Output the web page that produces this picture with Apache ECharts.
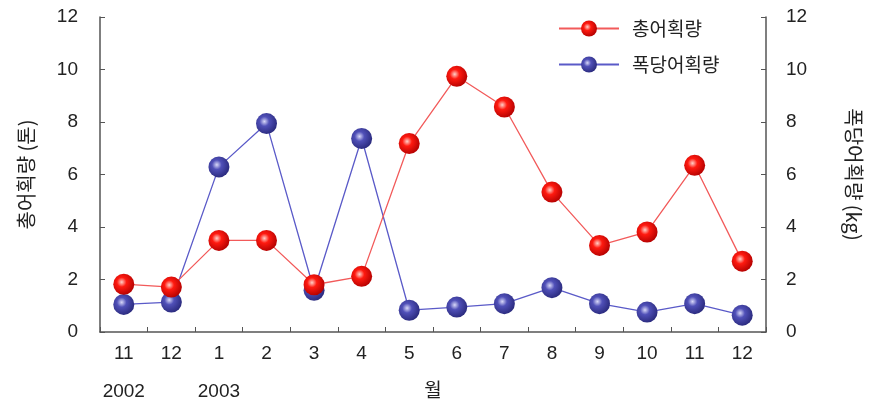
<!DOCTYPE html>
<html>
<head>
<meta charset="utf-8">
<script src="https://cdn.jsdelivr.net/npm/echarts@6/dist/echarts.min.js"></script>
<style>
html,body{margin:0;padding:0;background:#fff;}
#c{width:872px;height:414px;}
</style>
</head>
<body>
<div id="c"></div>
<script>
const months = ["11","12","1","2","3","4","5","6","7","8","9","10","11","12"];
const years = ["2002","","2003","","","","","","","","","","",""];
const totalCatch = [1.82,1.71,3.49,3.49,1.8,2.12,7.18,9.74,8.57,5.33,3.3,3.81,6.35,2.7];
const catchPerNet = [1.05,1.14,6.29,7.94,1.59,7.37,0.83,0.95,1.08,1.69,1.08,0.76,1.08,0.64];
const yTicks = [0,2,4,6,8,10,12];

const FONT = "'Liberation Sans', 'Noto Sans CJK KR', sans-serif";
const KFONT = "'Noto Sans CJK KR', 'Liberation Sans', sans-serif";
const axisColor = '#555';

function sphere(light, mid, dark){
  return {type:'radial', x:0.4, y:0.4, r:0.65, colorStops:[
    {offset:0, color:light},{offset:0.35, color:mid},{offset:1, color:dark}]};
}

const chart = echarts.init(document.getElementById('c'));
chart.setOption({
  animation:false,
  backgroundColor:'#fff',
  grid:{left:100, right:106, top:17, bottom:82, containLabel:false},
  legend:{
    orient:'vertical', left:553, top:14, itemWidth:60, itemHeight:20, itemGap:17,
    textStyle:{fontFamily:KFONT, fontSize:19, color:'#222', padding:[0,0,0,8]},
    data:['총어획량','폭당어획량']
  },
  xAxis:[{
    type:'category', data:months, position:'bottom',
    boundaryGap:true,
    name:'월', nameLocation:'middle', nameGap:48,
    nameTextStyle:{fontFamily:KFONT, fontSize:19, color:'#222'},
    axisLine:{show:true, lineStyle:{color:axisColor, width:1.5}},
    axisTick:{show:true, inside:true, length:5, lineStyle:{color:axisColor}},
    axisLabel:{interval:0, margin:12, fontFamily:FONT, fontSize:19, color:'#222'},
    splitLine:{show:false}
  },{
    type:'category', data:years, position:'bottom', offset:0,
    boundaryGap:true,
    axisLine:{show:false}, axisTick:{show:false},
    axisLabel:{interval:0, margin:50, fontFamily:FONT, fontSize:19, color:'#222'},
    splitLine:{show:false}
  }],
  yAxis:[{
    type:'value', min:0, max:12, interval:2, position:'left',
    name:'총어획량 (톤)', nameLocation:'middle', nameGap:64, nameRotate:90,
    nameTextStyle:{fontFamily:KFONT, fontSize:20, color:'#222'},
    axisLine:{show:true, lineStyle:{color:axisColor, width:1.5}},
    axisTick:{show:true, inside:true, length:5, lineStyle:{color:axisColor}},
    axisLabel:{margin:22, fontFamily:FONT, fontSize:19, color:'#222',
      formatter:v=>yTicks.includes(v)?String(v):''},
    splitLine:{show:false}
  },{
    type:'value', min:0, max:12, interval:2, position:'right',
    name:'폭당어획량 (kg)', nameLocation:'middle', nameGap:78, nameRotate:-90,
    nameTextStyle:{fontFamily:KFONT, fontSize:20, color:'#222'},
    axisLine:{show:true, lineStyle:{color:axisColor, width:1.5}},
    axisTick:{show:true, inside:true, length:5, lineStyle:{color:axisColor}},
    axisLabel:{margin:20, fontFamily:FONT, fontSize:19, color:'#222',
      formatter:v=>yTicks.includes(v)?String(v):''},
    splitLine:{show:false}
  }],
  series:[{
    name:'총어획량', type:'line', xAxisIndex:0, yAxisIndex:0,
    data:totalCatch, symbol:'circle', symbolSize:21,
    lineStyle:{color:'#f25a5a', width:1.3},
    itemStyle:{color:sphere('#ffd0c8','#ff1a10','#b00000'), borderWidth:0},
    z:3
  },{
    name:'폭당어획량', type:'line', xAxisIndex:0, yAxisIndex:1,
    data:catchPerNet, symbol:'circle', symbolSize:21,
    lineStyle:{color:'#5a5ac8', width:1.3},
    itemStyle:{color:sphere('#d8d8f8','#5050b8','#28287a'), borderWidth:0},
    z:2
  }]
});
</script>
</body>
</html>
